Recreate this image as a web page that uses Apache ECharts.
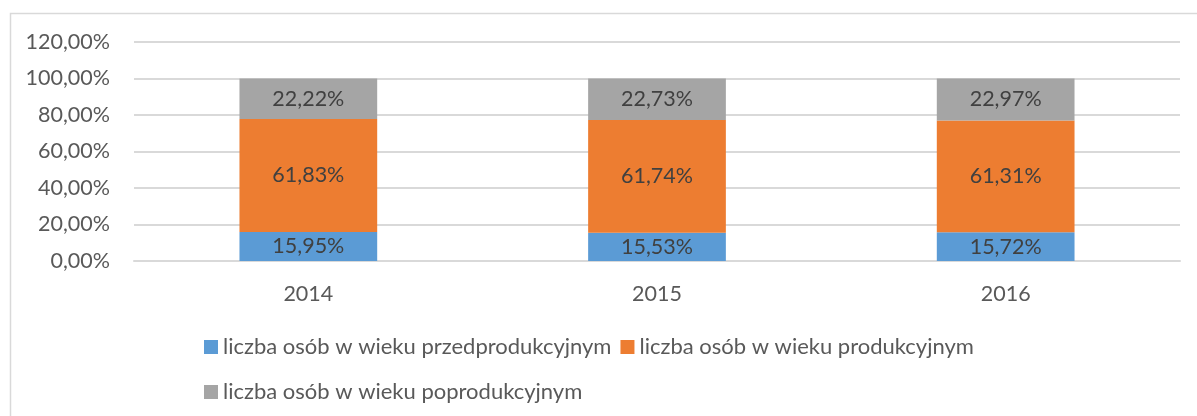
<!DOCTYPE html>
<html>
<head>
<meta charset="utf-8">
<script src="https://cdn.jsdelivr.net/npm/echarts@6/dist/echarts.min.js"></script>
<style>
  html, body { margin: 0; padding: 0; background: #fff; }
  #chart { width: 1197px; height: 416px; }
</style>
</head>
<body>
<div id="chart"></div>
<script>
const categories = ['2014', '2015', '2016']
const seriesNames = [
    'liczba osób w wieku przedprodukcyjnym',
    'liczba osób w wieku produkcyjnym',
    'liczba osób w wieku poprodukcyjnym'
]
const przedprodukcyjny = [15.95, 15.53, 15.72]
const produkcyjny = [61.83, 61.74, 61.31]
const poprodukcyjny = [22.22, 22.73, 22.97]
const colors = ['#5B9BD5', '#ED7D31', '#A5A5A5']

const fmt = v => v.toFixed(2).replace('.', ',') + '%'
const font = 'Lato, "Open Sans", sans-serif'

const seriesData = [przedprodukcyjny, produkcyjny, poprodukcyjny].map((vals, i) => ({
    name: seriesNames[i],
    type: 'bar',
    stack: 'total',
    barWidth: '39.5%',
    data: vals,
    itemStyle: { color: colors[i] },
    label: {
        show: true,
        position: 'inside',
        color: '#404040',
        fontFamily: font,
        fontSize: 21.5,
        formatter: p => fmt(p.value)
    }
}))

const dom = echarts.init(document.getElementById('chart'), null, { renderer: 'canvas' })
dom.setOption({
    animation: false,
    textStyle: { fontFamily: font },
    graphic: [{
        type: 'rect',
        shape: { x: 10.5, y: 13.5, width: 1300, height: 600 },
        style: { fill: 'none', stroke: '#D9D9D9', lineWidth: 1.5 },
        silent: true
    }],
    grid: { left: 134, right: 17, top: 42, bottom: 155 },
    legend: {
        left: 199,
        top: 324,
        width: 800,
        itemWidth: 14,
        itemHeight: 14,
        itemGap: 9,
        icon: 'rect',
        textStyle: { color: '#595959', fontSize: 22, fontFamily: font, lineHeight: 36 },
        data: seriesNames
    },
    xAxis: {
        type: 'category',
        data: categories,
        axisLine: { lineStyle: { color: '#D9D9D9', width: 2 } },
        axisTick: { show: false },
        axisLabel: { color: '#595959', fontSize: 21.5, margin: 22 }
    },
    yAxis: {
        type: 'value',
        min: 0,
        max: 120,
        interval: 20,
        axisLine: { show: false },
        axisTick: { show: false },
        splitLine: { lineStyle: { color: '#D9D9D9', width: 2 } },
        axisLabel: { color: '#595959', fontSize: 21.5, margin: 24, formatter: v => fmt(v) }
    },
    series: seriesData
})
window.addEventListener('resize', () => dom.resize())
</script>
</body>
</html>
